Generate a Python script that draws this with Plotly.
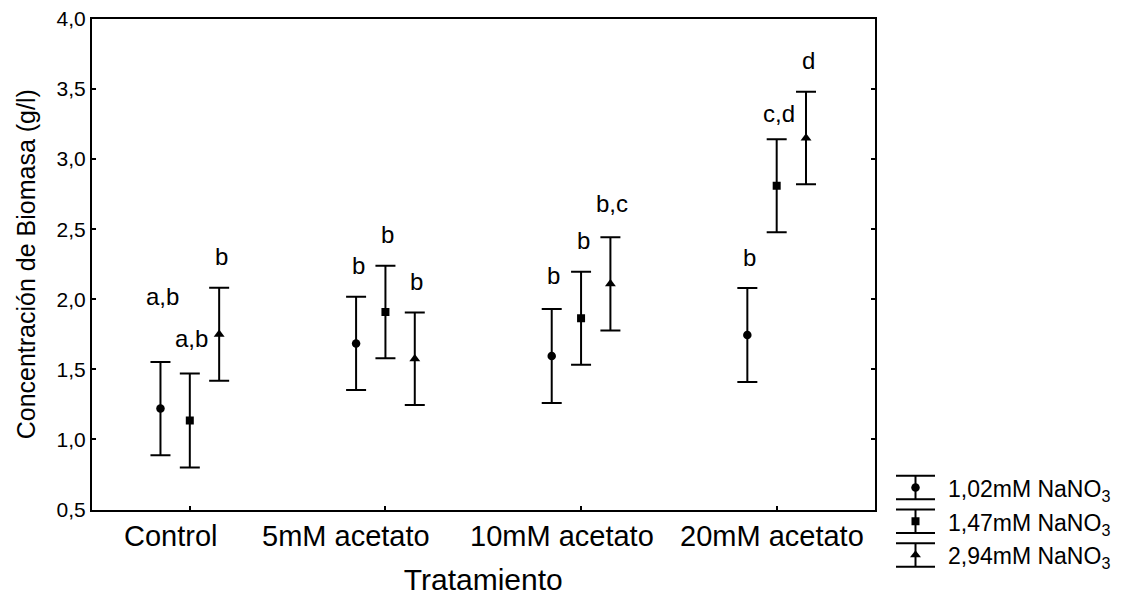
import plotly.graph_objects as go

# ---------------- data ----------------
categories = ["Control", "5mM acetato", "10mM acetato", "20mM acetato"]
series_names = ["1,02mM NaNO<sub>3</sub>", "1,47mM NaNO<sub>3</sub>", "2,94mM NaNO<sub>3</sub>"]

mean_102 = [1.22, 1.685, 1.595, 1.745]
err_102 = [0.333, 0.333, 0.335, 0.335]
mean_147 = [1.135, 1.91, 1.865, 2.81]
err_147 = [0.335, 0.33, 0.332, 0.332]
mean_294 = [1.75, 1.575, 2.11, 3.15]
err_294 = [0.332, 0.33, 0.332, 0.33]

letters_102 = ["a,b", "b", "b", "b"]
letters_147 = ["a,b", "b", "b", "c,d"]
letters_294 = ["b", "b", "b,c", "d"]

y_ticks = [0.5, 1.0, 1.5, 2.0, 2.5, 3.0, 3.5, 4.0]

# ---------------- styles ----------------
FONT = "Liberation Sans, Arial, sans-serif"
W, H = 1130, 596
ML, MR, MT, MB = 92, 8, 19, 14
PW, PH = W - ML - MR, H - MT - MB
plot_right_px, plot_bottom_px = 874.5, 509.5
x_dom = [0, (plot_right_px - ML) / PW]
y_dom = [(H - MB - plot_bottom_px) / PH, 1]

offsets = [-0.15, 0.0, 0.15]
symbols = ["circle", "square", "triangle-up"]
sizes = [8.5, 8, 9.5]
# extra vertical shift (px) of significance letters, per series and category
letter_extra = [[34, 0, 3, 0], [4, 0, 0, -5], [0, 0, 3, 0]]
# horizontal shift (px) of category labels as in the original
cat_shift = [-19, -39, -19, -5]

means = [mean_102, mean_147, mean_294]
errs = [err_102, err_147, err_294]
letters = [letters_102, letters_147, letters_294]

fig = go.Figure()
annotations = []

for s in range(3):
    xs = [i + offsets[s] for i in range(len(categories))]
    fig.add_trace(go.Scatter(
        x=xs, y=means[s], mode="markers", name=series_names[s],
        marker=dict(symbol=symbols[s], size=sizes[s], color="black"),
        error_y=dict(type="data", array=errs[s], visible=True,
                     color="black", thickness=2, width=10),
        showlegend=False, xaxis="x", yaxis="y",
    ))
    for i in range(len(categories)):
        annotations.append(dict(
            x=xs[i], y=means[s][i] + errs[s][i], xref="x", yref="y",
            text=letters[s][i], showarrow=False, yanchor="middle",
            xanchor="center", yshift=31 + letter_extra[s][i], xshift=2,
            font=dict(family=FONT, size=24, color="black"),
        ))

# category labels
for i, c in enumerate(categories):
    annotations.append(dict(
        x=i, y=0, xref="x", yref="y domain", text=c, showarrow=False,
        xanchor="center", yanchor="middle", yshift=-26, xshift=cat_shift[i],
        font=dict(family=FONT, size=29, color="black"),
    ))

# custom legend (error-bar glyphs) on hidden axes
leg_center_px = 915.5
leg_half = 20
leg_top_px, leg_step = 470.6, 33.75
x2_dom = [(leg_center_px - leg_half - ML) / PW, (leg_center_px + leg_half - ML) / PW]
y2_dom = [(H - MB - (leg_top_px + 3 * leg_step)) / PH, (H - MB - leg_top_px) / PH]
for s in range(3):
    fig.add_trace(go.Scatter(
        x=[0], y=[s + 1], mode="markers",
        marker=dict(symbol=symbols[s], size=sizes[s], color="black"),
        error_y=dict(type="data", array=[0.35], visible=True,
                     color="black", thickness=2, width=19.5),
        showlegend=False, xaxis="x2", yaxis="y2", hoverinfo="skip",
    ))
    annotations.append(dict(
        x=(946 - ML) / PW, y=s + 1, xref="paper", yref="y2",
        text=series_names[s], showarrow=False, xanchor="left", yanchor="middle",
        yshift=-3, font=dict(family=FONT, size=23, color="black"),
    ))

axis_common = dict(showline=True, linecolor="black", linewidth=2, showgrid=False,
                   zeroline=False, ticks="inside", ticklen=4, tickwidth=1.5,
                   tickcolor="black", automargin=False)

fig.update_layout(
    width=W, height=H, autosize=False,
    margin=dict(l=ML, r=MR, t=MT, b=MB, pad=0),
    paper_bgcolor="white", plot_bgcolor="white",
    separators=",.",
    font=dict(family=FONT, color="black"),
    showlegend=False,
    xaxis=dict(domain=x_dom, range=[-0.5, 3.5], tickvals=list(range(len(categories))),
               showticklabels=False, mirror=True, anchor="y",
               title=dict(text="Tratamiento", font=dict(family=FONT, size=30), standoff=58),
               **axis_common),
    yaxis=dict(domain=y_dom, range=[0.5, 4.0], tickvals=y_ticks, tickformat=".1f",
               mirror="ticks", anchor="x",
               tickfont=dict(family=FONT, size=21),
               title=dict(text="Concentración de Biomasa (g/l)",
                          font=dict(family=FONT, size=25), standoff=14),
               **axis_common),
    xaxis2=dict(domain=x2_dom, range=[-1, 1], visible=False, anchor="y2", fixedrange=True),
    yaxis2=dict(domain=y2_dom, range=[3.5, 0.5], visible=False, anchor="x2", fixedrange=True),
    annotations=annotations,
)

fig.write_html("out.html")
